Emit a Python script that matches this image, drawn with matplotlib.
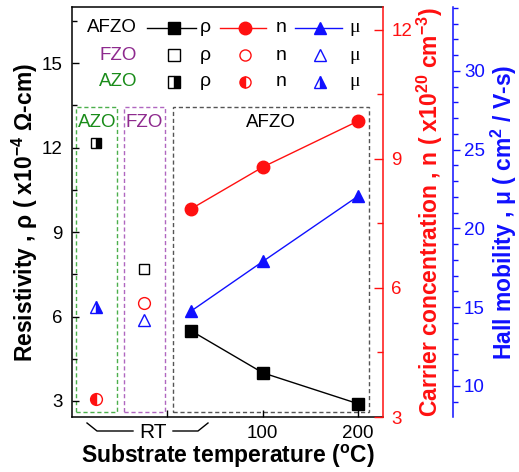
import matplotlib.pyplot as plt
from matplotlib.patches import Rectangle
from matplotlib.ticker import MultipleLocator

plt.rcParams['font.family'] = ['Liberation Sans', 'DejaVu Sans']
plt.rcParams['mathtext.fontset'] = 'custom'
plt.rcParams['mathtext.rm'] = 'Liberation Sans'
plt.rcParams['mathtext.bf'] = 'Liberation Sans:bold'

# Datos
afzo_T = [25, 100, 200]
afzo_rho = [5.49, 4.0, 2.9]
afzo_n = [7.84, 8.81, 9.88]
afzo_mu = [14.76, 17.9, 22.05]

fzo_T = [-25]
fzo_rho = [7.7]
fzo_n = [5.65]
fzo_mu = [14.2]

azo_T = [-75]
azo_rho = [12.18]
azo_n = [3.42]
azo_mu = [15.0]

x_ticks = [0, 100, 200]
x_ticklabels = ['', '100', '200']

red = '#ff1010'
blue = '#1010ff'
green = '#1a8c1a'
purple = '#8e2a8e'

fig = plt.figure(figsize=(5.19, 4.72), dpi=100)
ax = fig.add_axes([72/519, 1-417/472, 311/519, 410/472])
ax2 = ax.twinx()
ax3 = ax.twinx()

ax.set_xlim(-100, 226)
ax.set_ylim(2.43, 17.0)
ax2.set_ylim(3, 12.53)
ax3.set_ylim(8.03, 34.05)

# Estilo de ejes
for a in (ax2, ax3):
    for s in ('left', 'top', 'bottom'):
        a.spines[s].set_visible(False)
ax.spines['right'].set_visible(False)
for s in ('left', 'top', 'bottom'):
    ax.spines[s].set_linewidth(1.1)
ax2.spines['right'].set_color(red)
ax2.spines['right'].set_linewidth(1.1)
ax3.spines['right'].set_position(('outward', 50.4))
ax3.spines['right'].set_color(blue)
ax3.spines['right'].set_linewidth(1.1)

ax.set_xticks(x_ticks)
ax.set_xticklabels(x_ticklabels)
ax.tick_params(axis='x', direction='in', length=5, width=1, labelsize=13.5, pad=6)
ax.yaxis.set_major_locator(MultipleLocator(3))
ax.yaxis.set_minor_locator(MultipleLocator(1.5))
ax.tick_params(axis='y', which='major', direction='in', length=5, width=1, labelsize=13.5, pad=7)
ax.tick_params(axis='y', which='minor', direction='in', length=3.5, width=1)

ax2.yaxis.set_major_locator(MultipleLocator(3))
ax2.yaxis.set_minor_locator(MultipleLocator(1.5))
ax2.tick_params(axis='y', which='major', direction='in', length=6.5, width=1,
                colors=red, labelsize=13.5, pad=6)
ax2.tick_params(axis='y', which='minor', direction='in', length=4.5, width=1, colors=red)

ax3.yaxis.set_major_locator(MultipleLocator(5))
ax3.yaxis.set_minor_locator(MultipleLocator(1))
ax3.tick_params(axis='y', which='major', direction='out', length=5, width=1,
                colors=blue, labelsize=13.5, pad=3)
ax3.tick_params(axis='y', which='minor', direction='out', length=3.5, width=1, colors=blue)

# Etiquetas
ax.set_xlabel(r'Substrate temperature ($\mathregular{^o}$C)', fontsize=16.5,
              fontweight='bold', labelpad=0)
ax.set_ylabel(r'Resistivity , ρ ( x10$\mathbf{^{-4}}$ Ω-cm)', fontsize=16.5,
              fontweight='bold', labelpad=1)
ax2.set_ylabel(r'Carrier concentration , n ( x10$\mathbf{^{20}}$ cm$\mathbf{^{-3}}$)',
               fontsize=16.5, fontweight='bold', color=red, labelpad=2)
ax3.set_ylabel(r'Hall mobility , μ ( cm$\mathbf{^2}$ / V-s)', fontsize=16.5,
               fontweight='bold', color=blue, labelpad=3)

# Cajas punteadas
ax.add_patch(Rectangle((-95.3, 2.61), 42.9, 10.82, fill=False, ls=(0, (3, 2)),
                       ec='#4caf4c', lw=1, clip_on=False))
ax.add_patch(Rectangle((-45, 2.61), 43, 10.82, fill=False, ls=(0, (3, 2)),
                       ec='#b066c0', lw=1, clip_on=False))
ax.add_patch(Rectangle((6.3, 2.61), 205.2, 10.82, fill=False, ls=(0, (3, 2)),
                       ec='#555555', lw=1, clip_on=False))
ax.text(-74, 12.9, 'AZO', color=green, fontsize=13.5, ha='center', va='center')
ax.text(-24, 12.9, 'FZO', color=purple, fontsize=13.5, ha='center', va='center')
ax.text(108, 12.9, 'AFZO', color='black', fontsize=13.5, ha='center', va='center')

# Datos AFZO
ax.plot(afzo_T, afzo_rho, '-s', color='black', ms=8, lw=1, zorder=5)
ax2.plot(afzo_T, afzo_n, '-o', color=red, ms=9, lw=1, zorder=5)
ax3.plot(afzo_T, afzo_mu, '-^', color=blue, ms=9, lw=1, zorder=5)

# FZO (huecos)
ax.plot(fzo_T, fzo_rho, 's', mfc='none', mec='black', ms=7.5, mew=1)
ax2.plot(fzo_T, fzo_n, 'o', mfc='none', mec=red, ms=8.5, mew=1)
ax3.plot(fzo_T, fzo_mu, '^', mfc='none', mec=blue, ms=8.5, mew=1)

# AZO (medio rellenos)
ax.plot(azo_T, azo_rho, 's', fillstyle='right', mfc='black', mfcalt='white',
        mec='black', ms=7.5, mew=1)
ax2.plot(azo_T, azo_n, 'o', fillstyle='left', mfc=red, mfcalt='white',
         mec=red, ms=8.5, mew=1)
ax3.plot(azo_T, azo_mu, '^', fillstyle='right', mfc=blue, mfcalt='white',
         mec=blue, ms=8.5, mew=1)

# Leyenda manual
def px(x, y):
    return ((x - 72) / 311, (417 - y) / 410)

rows = [('AFZO', 'black', 28), ('FZO', purple, 55), ('AZO', green, 82)]
cols = [('s', 'black', 147, 196, 174, 'ρ', 205, 'Liberation Sans'),
        ('o', red, 220, 266, 245, 'n', 281, 'Liberation Sans'),
        ('^', blue, 295, 342, 320, 'μ', 355, 'Liberation Serif')]
tr = ax.transAxes
for ri, (name, c, yy) in enumerate(rows):
    tx, ty = px(137, yy)
    ax.text(tx, ty, name, color=c, fontsize=13.5, ha='right', va='center', transform=tr)
    for mk, mc, x0, x1, xm, sym, xs, fam in cols:
        ym = px(0, yy)[1]
        if ri == 0:
            ax.plot([px(x0, 0)[0], px(x1, 0)[0]], [ym, ym], '-', color=mc, lw=1,
                    transform=tr, clip_on=False)
            ax.plot([px(xm, 0)[0]], [ym], mk, color=mc, ms=9, transform=tr, clip_on=False)
        elif ri == 1:
            ax.plot([px(xm, 0)[0]], [ym], mk, mfc='none', mec=mc, ms=8, mew=1,
                    transform=tr, clip_on=False)
        else:
            fs = 'left' if mk == 'o' else 'right'
            ax.plot([px(xm, 0)[0]], [ym], mk, fillstyle=fs, mfc=mc, mfcalt='white',
                    mec=mc, ms=8, mew=1, transform=tr, clip_on=False)
        ax.text(px(xs, 0)[0], ym, sym, fontsize=14, ha='center', va='center',
                family=fam, transform=tr)

# Corchete RT
bx = [87, 97, 133]
by = [423, 431, 431]
ax.plot([px(x, 0)[0] for x in bx], [px(0, y)[1] for y in by], color='black', lw=1,
        transform=tr, clip_on=False)
bx = [173, 198, 208]
by = [431, 431, 423]
ax.plot([px(x, 0)[0] for x in bx], [px(0, y)[1] for y in by], color='black', lw=1,
        transform=tr, clip_on=False)
rx, ry = px(153, 433)
ax.text(rx, ry, 'RT', fontsize=15, ha='center', va='center', transform=tr)

plt.savefig('out.png', dpi=100)
plt.close()
